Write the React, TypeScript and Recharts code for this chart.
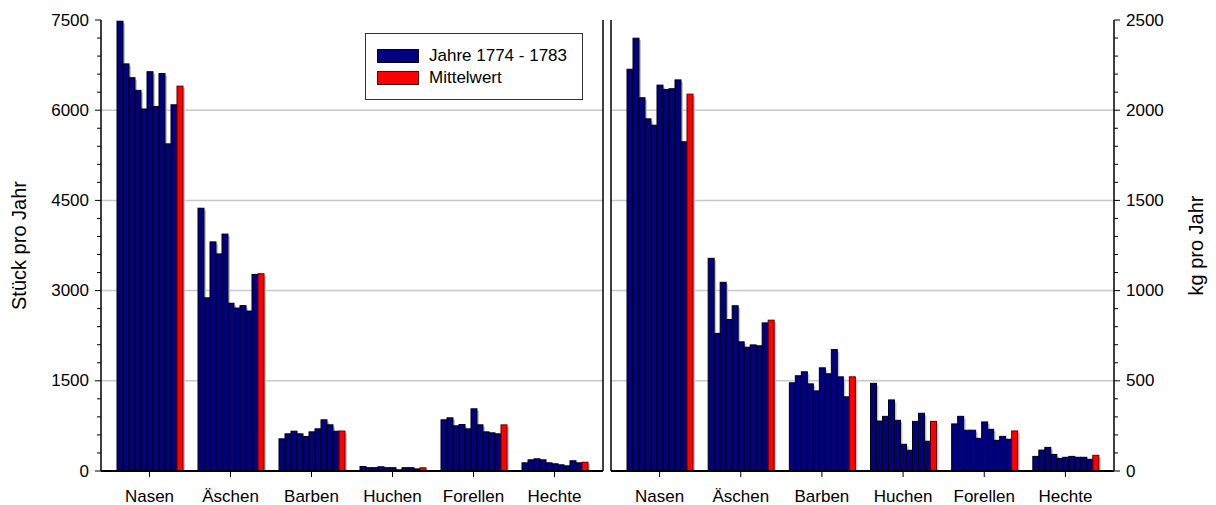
import React from 'react';
import { BarChart, Bar, XAxis, YAxis, CartesianGrid, Legend } from 'recharts';

const FONT = '"Liberation Sans", Arial, Helvetica, sans-serif';

const categories = ['Nasen', 'Äschen', 'Barben', 'Huchen', 'Forellen', 'Hechte'];
const years = ['1774', '1775', '1776', '1777', '1778', '1779', '1780', '1781', '1782', '1783'];

// Stück pro Jahr (left panel), one array per fish, values for 1774..1783
const stueckNasen = [7480, 6770, 6540, 6330, 6020, 6640, 6060, 6610, 5440, 6090];
const stueckAeschen = [4370, 2880, 3810, 3610, 3940, 2790, 2710, 2750, 2660, 3270];
const stueckBarben = [535, 618, 662, 618, 574, 651, 701, 851, 768, 662];
const stueckHuchen = [75, 55, 55, 70, 55, 55, 20, 55, 55, 35];
const stueckForellen = [851, 884, 751, 773, 701, 1034, 768, 651, 635, 618];
const stueckHechte = [136, 186, 203, 186, 136, 120, 103, 86, 170, 136];
const stueckMittel = [6400, 3280, 664, 53, 767, 146];

// kg pro Jahr (right panel)
const kgNasen = [2227, 2399, 2069, 1952, 1917, 2139, 2115, 2119, 2168, 1825];
const kgAeschen = [1179, 763, 1046, 840, 916, 716, 686, 699, 694, 821];
const kgBarben = [489, 528, 550, 483, 444, 572, 539, 673, 522, 411];
const kgHuchen = [486, 277, 303, 394, 281, 148, 115, 275, 320, 165];
const kgForellen = [261, 303, 226, 226, 181, 272, 231, 170, 192, 176];
const kgHechte = [81, 116, 131, 92, 70, 76, 81, 76, 76, 65];
const kgMittel = [2089, 836, 522, 275, 222, 87];

const leftTicks = [0, 300, 600, 900, 1200, 1500, 1800, 2100, 2400, 2700, 3000, 3300, 3600, 3900, 4200, 4500, 4800, 5100, 5400, 5700, 6000, 6300, 6600, 6900, 7200, 7500];
const leftMajor = [0, 1500, 3000, 4500, 6000, 7500];
const leftGrid = [1500, 3000, 4500, 6000];
const rightTicks = [0, 100, 200, 300, 400, 500, 600, 700, 800, 900, 1000, 1100, 1200, 1300, 1400, 1500, 1600, 1700, 1800, 1900, 2000, 2100, 2200, 2300, 2400, 2500];
const rightMajor = [0, 500, 1000, 1500, 2000, 2500];
const rightGrid = [500, 1000, 1500, 2000];

const legendYears = 'Jahre 1774 - 1783';
const legendMean = 'Mittelwert';

const buildRows = (series: number[][], mean: number[]) =>
  categories.map((name, i) => {
    const row: Record<string, any> = { name };
    years.forEach((yr, j) => {
      row['y' + yr] = series[i][j];
    });
    row.mean = mean[i];
    return row;
  });

const stueckRows = buildRows(
  [stueckNasen, stueckAeschen, stueckBarben, stueckHuchen, stueckForellen, stueckHechte],
  stueckMittel
);
const kgRows = buildRows([kgNasen, kgAeschen, kgBarben, kgHuchen, kgForellen, kgHechte], kgMittel);

const ShadowBar = (props: any) => {
  const { x, y, width, height, fill, stroke } = props;
  if (!height || height <= 0) return <g />;
  return (
    <g>
      <rect x={x + width} y={y + 2} width={2} height={Math.max(0, height - 2)} fill="#c4c4c4" />
      <rect x={x} y={y} width={width} height={height} fill={fill} stroke={stroke} strokeWidth={1} />
    </g>
  );
};

const makeYTick = (major: number[], side: 'left' | 'right') => (props: any) => {
  const { x, y, payload } = props;
  const isMajor = major.includes(payload.value);
  const dir = side === 'left' ? -1 : 1;
  const len = isMajor ? 6 : 4;
  return (
    <g>
      <line x1={x} x2={x + dir * len} y1={y} y2={y} stroke="#000" strokeWidth={1} />
      {isMajor && (
        <text
          x={x + dir * 12}
          y={y}
          textAnchor={side === 'left' ? 'end' : 'start'}
          dominantBaseline="central"
          fontSize={17}
          fontFamily={FONT}
          fill="#000"
        >
          {payload.value}
        </text>
      )}
    </g>
  );
};

const makeTitle = (text: string, dx: number) => (props: any) => {
  const vb = props.viewBox || {};
  const cx = vb.x + dx;
  const cy = vb.y + vb.height / 2;
  return (
    <text
      x={cx}
      y={cy}
      transform={`rotate(-90, ${cx}, ${cy})`}
      textAnchor="middle"
      dominantBaseline="central"
      fontSize={20}
      fontFamily={FONT}
      fill="#000"
    >
      {text}
    </text>
  );
};

const LegendBox = () => (
  <div
    style={{
      position: 'relative',
      width: 218,
      height: 67,
      boxSizing: 'border-box',
      border: '1.5px solid #333',
      background: '#fff',
      fontFamily: FONT,
      fontSize: 17,
      color: '#000',
    }}
  >
    <div style={{ position: 'absolute', left: 11, top: 15, width: 42, height: 14, boxSizing: 'border-box', background: '#000080', border: '1px solid #000' }} />
    <div style={{ position: 'absolute', left: 63, top: 12, lineHeight: '20px', whiteSpace: 'nowrap' }}>{legendYears}</div>
    <div style={{ position: 'absolute', left: 11, top: 37, width: 42, height: 14, boxSizing: 'border-box', background: '#ff0000', border: '1px solid #600000' }} />
    <div style={{ position: 'absolute', left: 63, top: 34, lineHeight: '20px', whiteSpace: 'nowrap' }}>{legendMean}</div>
  </div>
);

const renderBars = () =>
  years
    .map((yr) => (
      <Bar
        key={yr}
        dataKey={'y' + yr}
        fill="#000080"
        stroke="#000000"
        isAnimationActive={false}
        shape={ShadowBar}
        legendType="none"
      />
    ))
    .concat([
      <Bar key="mean" dataKey="mean" fill="#ff0000" stroke="#500000" isAnimationActive={false} shape={ShadowBar} legendType="none" />,
    ]);

const xTick = { fontSize: 17, fontFamily: FONT, fill: '#000' };

const rightEdge = (args: any) => {
  const o = args.offset;
  return [o.left + o.width];
};
const leftEdge = (args: any) => {
  const o = args.offset;
  return [o.left];
};

export default function App() {
  return (
    <div style={{ position: 'absolute', left: 0, top: 0, width: 1216, height: 505, background: '#fff' }}>
      <div style={{ position: 'absolute', left: 0, top: 0 }}>
        <BarChart
          width={605}
          height={505}
          data={stueckRows}
          margin={{ top: 20, right: 2, bottom: 0, left: 0 }}
          barGap={0}
          barSize={6}
        >
          <CartesianGrid vertical={false} horizontalValues={leftGrid} stroke="#c8c8c8" strokeWidth={1.5} />
          <CartesianGrid horizontal={false} verticalCoordinatesGenerator={rightEdge} stroke="#000" strokeWidth={1.5} />
          <XAxis
            dataKey="name"
            height={34}
            padding={{ left: 8, right: 8 }}
            interval={0}
            tickSize={6}
            tickMargin={13}
            tick={xTick}
            axisLine={{ stroke: '#000', strokeWidth: 2 }}
            tickLine={{ stroke: '#000' }}
          />
          <XAxis
            xAxisId="top"
            orientation="top"
            dataKey="name"
            height={0}
            tick={false}
            tickLine={false}
            axisLine={{ stroke: '#000', strokeWidth: 1.5 }}
          />
          <YAxis
            width={101}
            domain={[0, 7500]}
            ticks={leftTicks}
            interval={0}
            tickSize={0}
            tickMargin={0}
            tickLine={false}
            tick={makeYTick(leftMajor, 'left')}
            axisLine={{ stroke: '#000', strokeWidth: 1.5 }}
            label={{ content: makeTitle('Stück pro Jahr', 19) } as any}
          />
          <Legend
            verticalAlign="middle"
            align="center"
            layout="horizontal"
            wrapperStyle={{ left: 365, top: 33, width: 218, height: 67 }}
            content={LegendBox}
          />
          {renderBars()}
        </BarChart>
      </div>
      <div style={{ position: 'absolute', left: 605, top: 0 }}>
        <BarChart
          width={611}
          height={505}
          data={kgRows}
          margin={{ top: 20, right: 0, bottom: 0, left: 6 }}
          barGap={0}
          barSize={6}
        >
          <CartesianGrid vertical={false} horizontalValues={rightGrid} stroke="#c8c8c8" strokeWidth={1.5} />
          <CartesianGrid horizontal={false} verticalCoordinatesGenerator={leftEdge} stroke="#000" strokeWidth={1.5} />
          <XAxis
            dataKey="name"
            height={34}
            padding={{ left: 8, right: 8 }}
            interval={0}
            tickSize={6}
            tickMargin={13}
            tick={xTick}
            axisLine={{ stroke: '#000', strokeWidth: 2 }}
            tickLine={{ stroke: '#000' }}
          />
          <XAxis
            xAxisId="top"
            orientation="top"
            dataKey="name"
            height={0}
            tick={false}
            tickLine={false}
            axisLine={{ stroke: '#000', strokeWidth: 1.5 }}
          />
          <YAxis
            orientation="right"
            width={102}
            domain={[0, 2500]}
            ticks={rightTicks}
            interval={0}
            tickSize={0}
            tickMargin={0}
            tickLine={false}
            tick={makeYTick(rightMajor, 'right')}
            axisLine={{ stroke: '#000', strokeWidth: 1.5 }}
            label={{ content: makeTitle('kg pro Jahr', 82) } as any}
          />
          {renderBars()}
        </BarChart>
      </div>
    </div>
  );
}
